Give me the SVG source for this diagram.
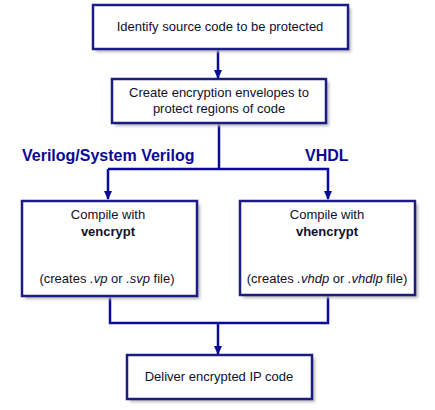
<svg xmlns="http://www.w3.org/2000/svg" width="435" height="410" viewBox="0 0 435 410">
<style>
.box{fill:#ffffff;stroke:#1c1c84;stroke-width:2.5}
.sh{fill:#b8b8b8;filter:url(#blur)}
.t{font-family:"Liberation Sans",Arial,sans-serif;font-size:13px;fill:#10102a;text-anchor:middle}
.b{font-weight:bold}
.lab{font-family:"Liberation Sans",Arial,sans-serif;font-size:16px;font-weight:bold;fill:#0a0a96}
.c{fill:none;stroke:#0a0a96;stroke-width:2.5}
</style>
<defs>
<filter id="blur" x="-10%" y="-10%" width="120%" height="130%"><feGaussianBlur stdDeviation="1.5"/></filter>
<marker id="ah" markerWidth="9" markerHeight="8" refX="8" refY="4" orient="auto" markerUnits="userSpaceOnUse">
<path d="M0,0 L9,4 L0,8 z" fill="#0a0a96"/>
</marker>
</defs>
<rect width="435" height="410" fill="#ffffff"/>
<g id="connectors">
<line class="c" x1="218" y1="50" x2="218" y2="78" marker-end="url(#ah)"/>
<polyline class="c" points="219,124 219,169"/>
<polyline class="c" points="108,169 328,169 328,199" marker-end="url(#ah)"/>
<line class="c" x1="108" y1="169" x2="108" y2="199" marker-end="url(#ah)"/>
<polyline class="c" points="110,297 110,323 328,323 328,296"/>
<line class="c" x1="218" y1="323" x2="218" y2="354" marker-end="url(#ah)"/>
</g>
<g id="n1">
<rect class="sh" x="96" y="8" width="255" height="44"/>
<rect class="box" x="93" y="5" width="255" height="44"/>
<text class="t" x="220" y="31">Identify source code to be protected</text>
</g>
<g id="n2">
<rect class="sh" x="115" y="82" width="214" height="44"/>
<rect class="box" x="112" y="79" width="214" height="44"/>
<text class="t" x="219" y="97">Create encryption envelopes to</text>
<text class="t" x="219" y="113">protect regions of code</text>
</g>
<text class="lab" x="22" y="161">Verilog/System Verilog</text>
<text class="lab" x="305" y="161">VHDL</text>
<g id="n3">
<rect class="sh" x="25" y="204" width="175" height="95"/>
<rect class="box" x="22" y="201" width="175" height="95"/>
<text class="t" x="108" y="219">Compile with</text>
<text class="t b" x="108" y="236">vencrypt</text>
<text class="t" x="107" y="283">(creates <tspan font-style="italic">.vp</tspan> or <tspan font-style="italic">.svp</tspan> file)</text>
</g>
<g id="n4">
<rect class="sh" x="243" y="204" width="175" height="94"/>
<rect class="box" x="240" y="201" width="175" height="94"/>
<text class="t" x="327" y="219">Compile with</text>
<text class="t b" x="327" y="236">vhencrypt</text>
<text class="t" x="327" y="283">(creates <tspan font-style="italic">.vhdp</tspan> or <tspan font-style="italic">.vhdlp</tspan> file)</text>
</g>
<g id="n5">
<rect class="sh" x="130" y="358" width="185" height="44"/>
<rect class="box" x="127" y="355" width="185" height="44"/>
<text class="t" x="219" y="381">Deliver encrypted IP code</text>
</g>
</svg>
